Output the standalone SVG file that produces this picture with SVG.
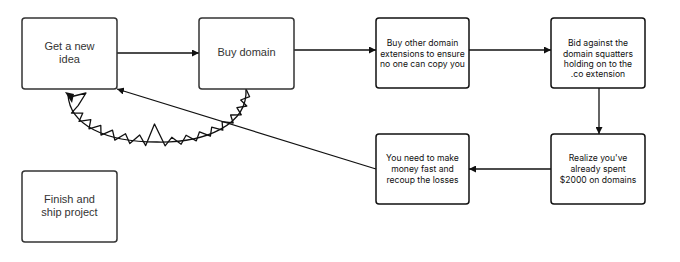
<svg xmlns="http://www.w3.org/2000/svg" width="680" height="262" viewBox="0 0 680 262">
<defs>
<style>
.box{fill:#fff;stroke:#333;stroke-width:1.5}
.boxb{fill:#fff;stroke:#111;stroke-width:1.5}
.t1{font-family:"Liberation Sans",Arial,sans-serif;font-size:11px;fill:#333;text-anchor:middle}
.t2{font-family:Inter,"Liberation Sans",sans-serif;font-size:8.6px;fill:#111;text-anchor:middle}
.conn{fill:none;stroke:#111;stroke-width:1.3}
</style>
<marker id="ah" viewBox="0 0 10 10" refX="10" refY="5" markerWidth="7" markerHeight="7" markerUnits="userSpaceOnUse" orient="auto">
<path d="M0,0 L10,5 L0,10 z" fill="#111"/>
</marker>
</defs>
<g id="connectors">
<line class="conn" x1="117" y1="53" x2="199" y2="53" marker-end="url(#ah)"/>
<line class="conn" x1="294" y1="50" x2="376" y2="50" marker-end="url(#ah)"/>
<line class="conn" x1="469" y1="50" x2="551" y2="50" marker-end="url(#ah)"/>
<line class="conn" x1="599" y1="88" x2="599" y2="134" marker-end="url(#ah)"/>
<line class="conn" x1="551" y1="169" x2="469" y2="169" marker-end="url(#ah)"/>
<line class="conn" x1="376" y1="169" x2="117" y2="89" marker-end="url(#ah)"/>
<path class="conn" stroke-width="0.9" d="M246,89 C248,125 205,143 157,142 C105,142 70,125 68,95"/>
<polyline class="conn" stroke-width="1.6" stroke-linejoin="round" points="246,89 249.6,96.7 240.7,100 246.8,106 236.9,107.7 241.3,114.8 230.6,115 233.2,123 222.1,121.6 222.8,130.2 211.7,127.2 210.4,136.2 199.5,131.8 196.3,140.9 186.1,135.2 181.1,144.2 171.8,137.3 165.1,145.8 154.5,124 145.7,145.6 139.7,135 129.8,143.6 125.5,133.7 114.8,140.1 112.5,130.2 101,135.1 100.8,125.4 89,128.8 90.8,119.7 79,121.4 82.8,113.1 71.4,113.1 78.1,105.6 86,93 70,97"/>
<path d="M65,92 L74,94 L72,103 z" fill="#111"/>
</g>
<g id="n1"><rect class="box" x="22" y="18" width="95" height="71" rx="3"/><text class="t1" x="69.5" y="50">Get a new</text><text class="t1" x="69.5" y="63">idea</text></g>
<g id="n2"><rect class="box" x="199" y="18" width="95" height="71" rx="3"/><text class="t1" x="246.5" y="56">Buy domain</text></g>
<g id="n3"><rect class="boxb" x="376" y="18" width="93" height="70" rx="3"/><text class="t2" x="422.5" y="46">Buy other domain</text><text class="t2" x="422.5" y="56.5">extensions to ensure</text><text class="t2" x="422.5" y="67">no one can copy you</text></g>
<g id="n4"><rect class="boxb" x="551" y="18" width="94" height="70" rx="3"/><text class="t2" x="598" y="46">Bid against the</text><text class="t2" x="598" y="56.5">domain squatters</text><text class="t2" x="598" y="67">holding on to the</text><text class="t2" x="598" y="77">.co extension</text></g>
<g id="n5"><rect class="boxb" x="551" y="134" width="94" height="70" rx="3"/><text class="t2" x="598" y="161">Realize you've</text><text class="t2" x="598" y="172">already spent</text><text class="t2" x="598" y="182.5">$2000 on domains</text></g>
<g id="n6"><rect class="boxb" x="376" y="134" width="93" height="70" rx="3"/><text class="t2" x="422.5" y="161">You need to make</text><text class="t2" x="422.5" y="172">money fast and</text><text class="t2" x="422.5" y="182.5">recoup the losses</text></g>
<g id="n7"><rect class="box" x="22" y="171" width="95" height="71" rx="3"/><text class="t1" x="69.5" y="203">Finish and</text><text class="t1" x="69.5" y="216">ship project</text></g>
</svg>
